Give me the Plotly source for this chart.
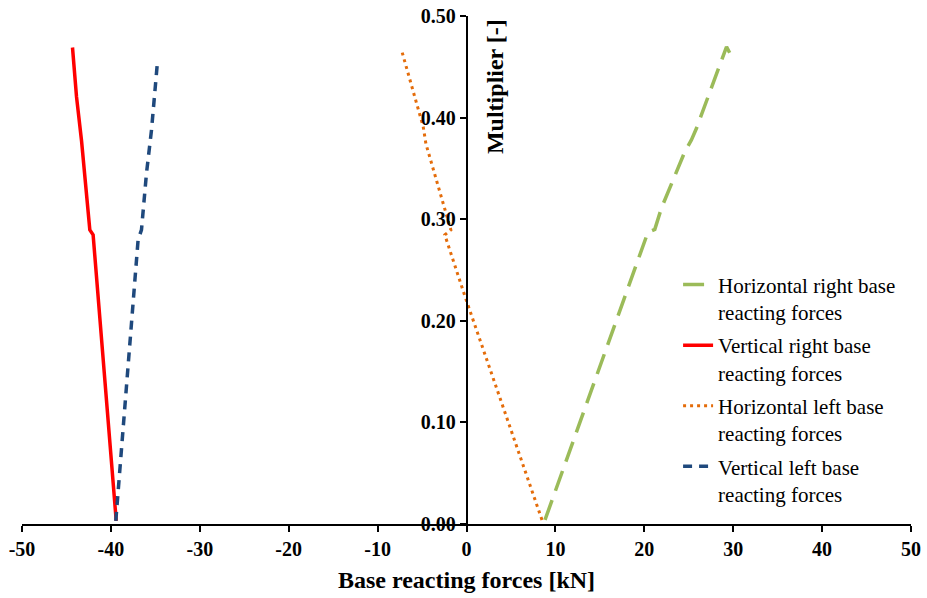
import plotly.graph_objects as go

# Data (x = base reacting force [kN], y = multiplier [-])
hr_x = [8.83, 20.4, 21.18, 21.93, 24.56, 25.3, 25.87, 29.25, 29.6]
hr_y = [0.004, 0.287, 0.290, 0.311, 0.3665, 0.378, 0.3895, 0.4697, 0.4638]

vr_x = [-39.4, -42.0, -42.37, -43.3, -43.87, -44.32]
vr_y = [0.003, 0.2846, 0.2895, 0.377, 0.4206, 0.469]

hl_x = [8.49, -0.17, -2.44, -1.76, -4.56, -4.87, -7.31]
hl_y = [0.004, 0.224, 0.2846, 0.2895, 0.374, 0.391, 0.4665]

vl_x = [-39.45, -36.94, -36.56, -36.0, -35.43, -34.76]
vl_y = [0.003, 0.2797, 0.2895, 0.345, 0.388, 0.455]

names = ["Horizontal right base<br>reacting forces",
         "Vertical right base<br>reacting forces",
         "Horizontal left base<br>reacting forces",
         "Vertical left base<br>reacting forces"]

x_ticks = [-50, -40, -30, -20, -10, 0, 10, 20, 30, 40, 50]
y_ticks = [0.0, 0.1, 0.2, 0.3, 0.4, 0.5]

FONT = "Liberation Serif"

fig = go.Figure()
fig.add_trace(go.Scatter(x=hr_x, y=hr_y, mode="lines", name=names[0], legendgroup="a",
                         line=dict(color="#9BBB59", width=3.5, dash="21px,10px")))
fig.add_trace(go.Scatter(x=vr_x, y=vr_y, mode="lines", name=names[1], legendgroup="b",
                         line=dict(color="#FF0000", width=3.5)))
fig.add_trace(go.Scatter(x=hl_x, y=hl_y, mode="lines", name=names[2], legendgroup="c",
                         line=dict(color="#E46C0A", width=3, dash="3px,4px")))
fig.add_trace(go.Scatter(x=vl_x, y=vl_y, mode="lines", name=names[3], legendgroup="d",
                         line=dict(color="#1F497D", width=3.5, dash="9px,7px")))

fig.update_layout(
    width=927, height=598,
    margin=dict(l=22, r=16, t=16, b=74, autoexpand=False),
    paper_bgcolor="white", plot_bgcolor="white",
    font=dict(family=FONT, color="black"),
    xaxis=dict(range=[-50, 50], tickvals=x_ticks, ticktext=[str(v) for v in x_ticks],
               showgrid=False, zeroline=False, showline=True, linecolor="black", linewidth=1.5,
               ticks="outside", ticklen=6, tickwidth=1.5, tickcolor="black",
               tickfont=dict(family=FONT, size=20, color="black", weight="bold"),
               anchor="y", automargin=False),
    yaxis=dict(range=[0, 0.5], tickvals=y_ticks, ticktext=["%.2f" % v for v in y_ticks],
               showgrid=False, zeroline=False, showline=True, linecolor="black", linewidth=1.5,
               ticks="outside", ticklen=6, tickwidth=1.5, tickcolor="black",
               tickfont=dict(family=FONT, size=20, color="black", weight="bold"),
               anchor="free", position=0.5, automargin=False),
    showlegend=True,
    legend=dict(x=0.738, y=0.511, xanchor="left", yanchor="top",
                font=dict(family=FONT, size=21, color="black"),
                bgcolor="rgba(0,0,0,0)", valign="top", traceorder="grouped",
                tracegroupgap=3),
    annotations=[
        dict(text="<b>Multiplier [-]</b>", xref="x", yref="y", x=3.2, y=0.431,
             textangle=-90, showarrow=False, font=dict(family=FONT, size=24, color="black")),
        dict(text="<b>Base reacting forces [kN]</b>", xref="paper", yref="paper",
             x=0.5, y=-0.110, showarrow=False, xanchor="center", yanchor="middle",
             font=dict(family=FONT, size=24, color="black")),
    ],
)

fig.write_html("out.html", config={"displayModeBar": False},
               post_script="document.body.style.margin='0';")
